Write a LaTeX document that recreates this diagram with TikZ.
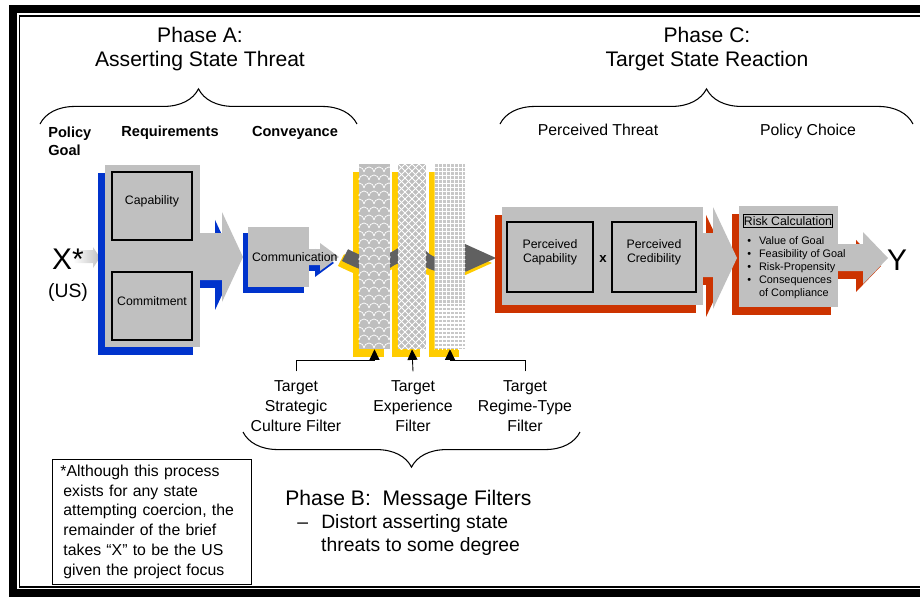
\documentclass[tikz,border=0pt]{standalone}
\usepackage{fontspec}
\setmainfont{Liberation Sans}
\usetikzlibrary{arrows.meta,decorations.pathreplacing,shadows,fit}

\definecolor{boxgray}{HTML}{C0C0C0}
\definecolor{stripgray}{HTML}{BEBEBE}
\definecolor{gridgray}{HTML}{C8C8C8}
\definecolor{shadeblue}{HTML}{0033CC}
\definecolor{shadered}{HTML}{CC3300}
\definecolor{shadeyellow}{HTML}{FFCC00}
\definecolor{wavegray}{HTML}{606060}

\begin{document}
\begin{tikzpicture}[x=0.02cm,y=-0.02cm,
every node/.style={inner sep=0pt},
shadowed/.style={fill=boxgray,drop shadow={shadow xshift=-3.97pt,shadow yshift=-4.54pt,fill=#1,opacity=1}},
smallshadowed/.style={fill=boxgray,drop shadow={shadow xshift=-2.83pt,shadow yshift=-3.4pt,fill=#1,opacity=1}}]
\tikzstyle{phase}=[align=center,font=\fontsize{12}{13.6}\selectfont]
\tikzstyle{stagelabel}=[font=\bfseries\fontsize{8.3}{10.2}\selectfont]
\tikzstyle{threatlabel}=[font=\fontsize{9}{11}\selectfont]
\tikzstyle{phasebrace}=[decorate,decoration={brace,amplitude=20pt},line width=0.6pt]
\tikzstyle{inbox}=[draw,line width=0.6pt,fill=boxgray,align=center,font=\fontsize{7}{7.9}\selectfont]
\tikzstyle{filterstrip}=[drop shadow={shadow xshift=-3.4pt,shadow yshift=-4.54pt,fill=shadeyellow,opacity=1}]
\tikzstyle{filterlabel}=[align=center,font=\fontsize{9}{11.34}\selectfont]
\tikzstyle{filterarrow}=[-{Triangle[width=5.7pt,length=6pt]},line width=0.5pt]
\tikzstyle{bigletter}=[font=\fontsize{17}{20}\selectfont]

\useasboundingbox (0,0) rectangle (920,596);

% double frame
\draw[line width=4.5pt] (930,593) -- (13,593) -- (13,9) -- (930,9);
\draw[line width=1.1pt] (930,587) -- (19.5,587) -- (19.5,16) -- (930,16);

% phase headings
\node[phase] (phaseA) at (200,49) {Phase A:\\Asserting State Threat};
\node[phase] (phaseC) at (707,49) {Phase C:\\Target State Reaction};
\draw[phasebrace] (40,124) -- (357,124);
\draw[phasebrace] (500,124) -- (913,124);

\node[stagelabel,align=left,anchor=west] (goal) at (48,141) {Policy\\Goal};
\node[stagelabel] (reqlabel) at (170,133) {Requirements};
\node[stagelabel] (convlabel) at (295,133) {Conveyance};
\node[threatlabel] (threatlabel) at (598,130) {Perceived Threat};
\node[threatlabel] (choicelabel) at (808,131) {Policy Choice};

% asserting state
\shade[left color=white,right color=boxgray] (73,250) -- (93,250) -- (93,247) -- (100,257.5)
  -- (93,268) -- (93,263) -- (73,263) -- cycle;
\node[bigletter,anchor=base] (x) at (68,269) {X*};
\node[font=\fontsize{11}{13}\selectfont,anchor=base] (us) at (68,297) {(US)};

% requirements
\fill[shadowed=shadeblue] (195,233) -- (222,233) -- (222,212) -- (243,257) -- (222,302)
  -- (222,280) -- (195,280) -- cycle;
\node[shadowed=shadeblue,fit={(105,165) (200,347)}] (req) {};
\node[inbox,fit={(112,172) (192,240)}] (cap) {Capability};
\node[inbox,fit={(112,272) (192,340)}] (commit) {Commitment};

% conveyance
\fill[smallshadowed=shadeblue] (305,249) -- (320,249) -- (320,243) -- (339,257) -- (320,271)
  -- (320,265) -- (305,265) -- cycle;
\node[smallshadowed=shadeblue,fit={(248,227) (309,287)}] (comm) {};
\node[font=\fontsize{7}{8}\selectfont,anchor=west] (commtext) at ([xshift=2.3pt]comm.west) {Communication};

% message filters
\node[filterstrip,fill=stripgray,fit={(359,164) (390,349)}] (strip1) {};
\node[filterstrip,fill=stripgray,fit={(398,164) (426,349)}] (strip2) {};
\node[filterstrip,fill=gridgray,fit={(435,164) (465,349)}] (strip3) {};

\foreach \col/\sx/\sy in {shadeyellow/-4/5,wavegray/0/0}{
  \draw[\col,line width=7.5pt,shift={(\sx,\sy)}] plot[smooth,tension=0.7]
    coordinates {(345,255) (374,266) (394,258) (412,250) (430,262) (450,266) (468,258)};
  \fill[\col,shift={(\sx,\sy)}] (465,244) -- (496,258) -- (465,272) -- cycle;
}

% strategic culture: scales
\fill[stripgray] (strip1.south west) rectangle (strip1.north east);
\begin{scope}
\clip (strip1.south west) rectangle (strip1.north east);
\foreach \r in {0,...,23}
  \foreach \c in {-1,...,3}
    \draw[white,line width=0.4pt] ({359+\c*10+5*mod(\r,2)},{164+\r*8}) arc[start angle=180,end angle=360,radius=5];
\end{scope}
% experience: diamonds
\fill[stripgray] (strip2.south west) rectangle (strip2.north east);
\begin{scope}
\clip (strip2.south west) rectangle (strip2.north east);
\foreach \k in {-35,-28,...,220}{
  \draw[white,line width=0.5pt] (398,164+\k) -- ++(40,40);
  \draw[white,line width=0.5pt] (398,164+\k) -- ++(40,-40);
}
\end{scope}
% regime type: grid
\fill[gridgray] (strip3.south west) rectangle (strip3.north east);
\begin{scope}
\clip (strip3.south west) rectangle (strip3.north east);
\draw[white,line width=0.7pt,step=2.27pt] (430,160) grid (470,355);
\end{scope}

\node[filterlabel] (culture) at (296,406) {Target\\Strategic\\Culture Filter};
\node[filterlabel] (experience) at (413,406) {Target\\Experience\\Filter};
\node[filterlabel] (regime) at (525,406) {Target\\Regime-Type\\Filter};

\draw[filterarrow] ([yshift=5pt]culture.north) -- ++(0,-11) -| (strip1.south);
\draw[filterarrow] ([yshift=5pt]experience.north) -- (strip2.south);
\draw[filterarrow] ([yshift=5pt]regime.north) -- ++(0,-11) -| (strip3.south);

\draw[phasebrace] (580,432) -- (243,432);
\node[anchor=base west,font=\fontsize{12}{13.6}\selectfont] (phaseB) at (285,505) {Phase B:\ \ Message Filters};
\node[anchor=north west,align=left,font=\fontsize{11}{13}\selectfont] (phaseBnote) at (297,514)
  {–\hspace{7.5pt}Distort asserting state\\\hspace*{13.6pt}threats to some degree};

% footnote
\node[draw,line width=0.6pt,anchor=north west,inner xsep=4.5pt,text width=104pt,minimum height=70.9pt,
  align=left,font=\fontsize{9}{11.3}\selectfont] (note) at (52,459)
  {*Although this process\\
   \hspace*{1.7pt}exists for any state\\
   \hspace*{1.7pt}attempting coercion, the\\
   \hspace*{1.7pt}remainder of the brief\\
   \hspace*{1.7pt}takes “X” to be the US\\
   \hspace*{1.7pt}given the project focus};

% target state: policy choice
\fill[shadowed=shadered] (833,244) -- (863,244) -- (863,232) -- (888,258) -- (863,284)
  -- (863,271) -- (833,271) -- cycle;
\node[shadowed=shadered,fit={(739,206) (838,307)}] (risk) {};
\node[draw,line width=0.6pt,minimum width=51pt,minimum height=7.9pt,font=\fontsize{7}{8}\selectfont]
  (risktitle) at (788,221) {Risk Calculation};
\node[anchor=north west,align=left,font=\fontsize{6.2}{7.4}\selectfont] (risklist) at (747,236)
  {\textbullet\hspace{4.5pt}Value of Goal\\
   \textbullet\hspace{4.5pt}Feasibility of Goal\\
   \textbullet\hspace{4.5pt}Risk-Propensity\\
   \textbullet\hspace{4.5pt}Consequences\\
   \hphantom{\textbullet}\hspace{4.5pt}of Compliance};
\node[bigletter,anchor=base] (y) at (897,270) {Y};

% target state: perceived threat
\fill[shadowed=shadered] (698,233) -- (713,233) -- (713,207) -- (737,258) -- (713,309)
  -- (713,277) -- (698,277) -- cycle;
\node[shadowed=shadered,fit={(502,207) (703,305)}] (threat) {};
\node[inbox,fit={(507,222) (593,292)}] (pcap) {Perceived\\Capability};
\node[inbox,fit={(612,222) (696,292)}] (pcred) {Perceived\\Credibility};
\node[font=\bfseries\fontsize{7.5}{9}\selectfont] (times) at (603,259) {x};

\end{tikzpicture}
\end{document}
